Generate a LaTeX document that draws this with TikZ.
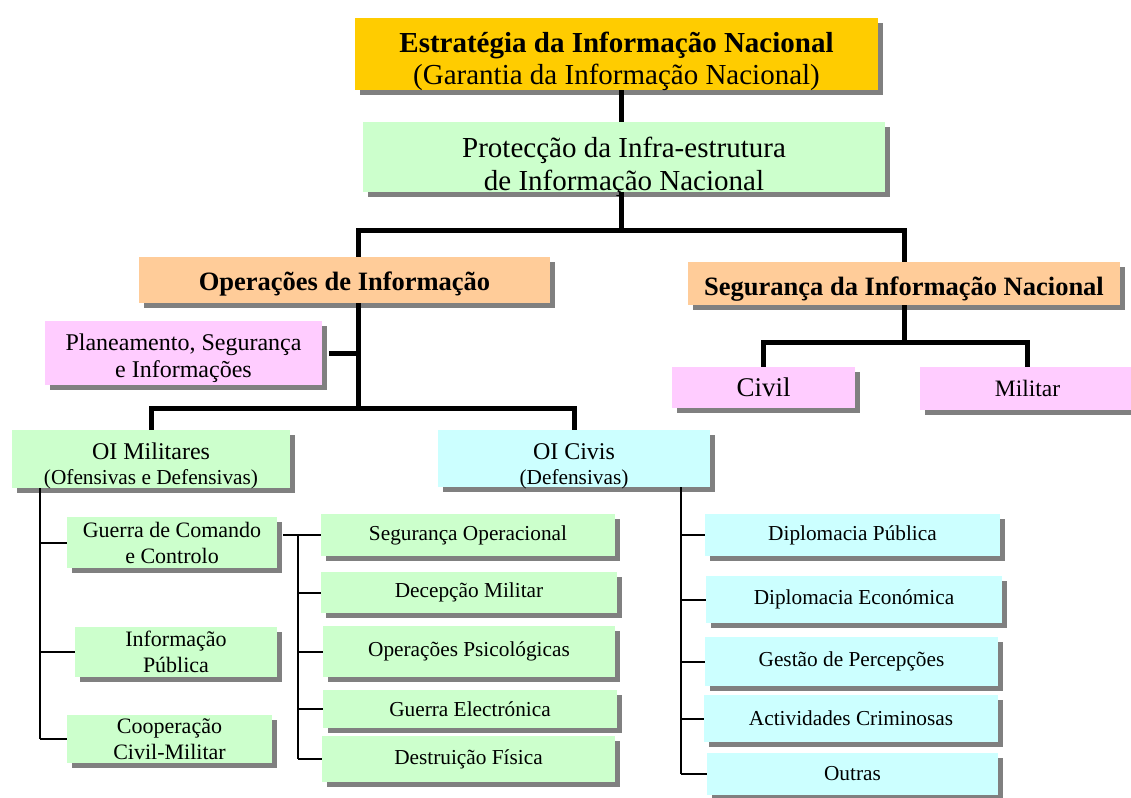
\documentclass[tikz,border=0pt]{standalone}
\usepackage{fontspec}
\setmainfont{Liberation Serif}
\usetikzlibrary{shadows}
\definecolor{amarelo}{HTML}{FFCC00}
\definecolor{verde}{HTML}{CCFFCC}
\definecolor{laranja}{HTML}{FFCC99}
\definecolor{rosa}{HTML}{FFCCFF}
\definecolor{ciano}{HTML}{CCFFFF}
\definecolor{sombra}{HTML}{808080}
\begin{document}
\begin{tikzpicture}[x=1pt,y=-1pt,
    box/.style={inner sep=0pt,align=center,text=black,
        drop shadow={shadow xshift=5pt,shadow yshift=-5pt,fill=sombra,opacity=1}},
    tronco/.style={line width=5pt,black},
    ramo/.style={line width=2pt,black},
    grande/.style={font=\fontsize{29}{32}\selectfont},
    medio/.style={font=\fontsize{26.5}{30}\selectfont\bfseries},
    pequeno/.style={font=\fontsize{21.3}{25}\selectfont}]
    \useasboundingbox (0,0) rectangle (1131,797);
    %draw upper boxes
    \node[box,grande,fill=amarelo,minimum width=523,minimum height=72,text height=61,text depth=0] (estrat) at (616.5,54)
        {\textbf{Estratégia da Informação Nacional}\\(Garantia da Informação Nacional)};
    \node[box,fill=verde,minimum width=522,minimum height=70,text height=67,text depth=0,font=\fontsize{29}{33}\selectfont] (prot) at (624,157)
        {Protecção da Infra-estrutura\\de Informação Nacional};
    \node[box,medio,fill=laranja,minimum width=411,minimum height=46,text height=26,text depth=6] (opinf) at (344.5,280) {Operações de Informação};
    \node[box,medio,fill=laranja,minimum width=432,minimum height=43,text height=30,text depth=6] (segnac) at (904,283.5) {Segurança da Informação Nacional};
    \node[box,fill=rosa,minimum width=277,minimum height=64,text height=55,font=\fontsize{24}{27}\selectfont] (plan) at (183.5,353)
        {Planeamento, Segurança\\e Informações};
    \node[box,fill=rosa,minimum width=183,minimum height=41,font=\fontsize{27}{28}\selectfont] (civil) at (763.5,387.5) {Civil};
    \node[box,fill=rosa,minimum width=215,minimum height=43,font=\fontsize{23.5}{28}\selectfont] (militar) at (1027.5,388.5) {Militar};
    \node[box,pequeno,fill=verde,minimum width=278,minimum height=58,text height=51.5,text depth=0] (oimil) at (151,459)
        {{\fontsize{24}{25}\selectfont OI Militares}\\(Ofensivas e Defensivas)};
    \node[box,pequeno,fill=ciano,minimum width=272,minimum height=57,text height=52.5,text depth=0] (oiciv) at (574,458.5)
        {{\fontsize{24}{25}\selectfont OI Civis}\\(Defensivas)};
    %draw military boxes
    \tikzset{pequeno/.style={font=\fontsize{22}{26}\selectfont}}
    \node[box,pequeno,fill=verde,minimum width=210,minimum height=51] (guerra) at (172,542.5) {Guerra de Comando\\e Controlo};
    \node[box,pequeno,fill=verde,minimum width=202,minimum height=50] (infpub) at (176,652) {Informação\\Pública};
    \node[box,pequeno,fill=verde,minimum width=205,minimum height=48] (coop) at (169.5,739) {Cooperação\\Civil-Militar};
    \tikzset{pequeno/.style={font=\fontsize{21.3}{25}\selectfont}}
    \node[box,pequeno,fill=verde,minimum width=294,minimum height=42] (segop) at (468,535) {Segurança Operacional};
    \node[box,pequeno,fill=verde,minimum width=296,minimum height=41] (decep) at (469,592.5) {Decepção Militar};
    \node[box,pequeno,fill=verde,minimum width=292,minimum height=51] (psic) at (469,651.5) {Operações Psicológicas};
    \node[box,pequeno,fill=verde,minimum width=294,minimum height=38] (gelec) at (470,709) {Guerra Electrónica};
    \node[box,pequeno,fill=verde,minimum width=293,minimum height=46] (destr) at (468.5,759) {Destruição Física};
    %draw civil boxes
    \node[box,pequeno,fill=ciano,minimum width=295,minimum height=42] (dpub) at (852.5,535) {Diplomacia Pública};
    \node[box,pequeno,fill=ciano,minimum width=296,minimum height=47] (deco) at (854,599.5) {Diplomacia Económica};
    \node[box,pequeno,fill=ciano,minimum width=293,minimum height=49] (gest) at (851.5,661.5) {Gestão de Percepções};
    \node[box,pequeno,fill=ciano,minimum width=294,minimum height=47] (activ) at (851,718.5) {Actividades Criminosas};
    \node[box,pequeno,fill=ciano,minimum width=291,minimum height=42] (outras) at (852.5,774) {Outras};
    %draw thick lines
    \draw[tronco] ([xshift=4.5pt]estrat.south) -- ([xshift=4.5pt]estrat.south |- prot.north);
    \draw[tronco] ([xshift=-3pt]prot.south) -- ++(0,38) coordinate (j1);
    \draw[tronco] ([xshift=13.5pt]opinf.north) |- (j1) -| (segnac.north);
    \draw[tronco] ([xshift=13.5pt]opinf.south) -- ++(0,105) coordinate (j2);
    \draw[tronco] (oimil.north) |- (j2) -| (oiciv.north);
    \draw[tronco] ([xshift=7pt]plan.east) -- (plan.east -| j2);
    \draw[tronco] (segnac.south) -- ++(0,37) coordinate (j3);
    \draw[tronco] (civil.north) |- (j3) -| (militar.north);
    %draw thin lines
    \coordinate (m0) at ([xshift=-111pt]oimil.south);
    \draw[ramo] (m0) -- (m0 |- coop.west);
    \foreach \n in {guerra,infpub,coop}
        \draw[ramo] (m0 |- \n.west) -- (\n.west);
    \coordinate (g0) at ([xshift=-23pt]segop.west);
    \draw[ramo] ([xshift=6pt]guerra.east |- segop.west) -- (segop.west);
    \draw[ramo] (g0) -- (g0 |- destr.west);
    \foreach \n in {decep,psic,gelec,destr}
        \draw[ramo] (g0 |- \n.west) -- (\n.west);
    \coordinate (c0) at ([xshift=107pt]oiciv.south);
    \draw[ramo] (c0) -- (c0 |- outras.west);
    \foreach \n in {dpub,deco,gest,activ,outras}
        \draw[ramo] (c0 |- \n.west) -- (\n.west);
\end{tikzpicture}
\end{document}
